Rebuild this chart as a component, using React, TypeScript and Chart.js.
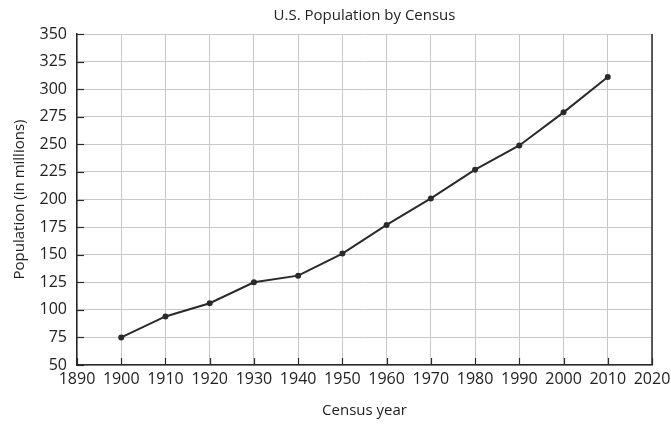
import React, { useEffect, useRef } from "react";
import { Chart, registerables } from "chart.js";

Chart.register(...registerables);

const years = [1900, 1910, 1920, 1930, 1940, 1950, 1960, 1970, 1980, 1990, 2000, 2010];
const population = [75, 94, 106, 125, 131, 151, 177, 201, 227, 249, 279, 311];
const chartTitle = "U.S. Population by Census";
const xTitle = "Census year";
const yTitle = "Population (in millions)";

const FONT = "'Open Sans', 'Noto Sans', sans-serif";

const frame = {
  id: "frame",
  afterDraw(chart: any) {
    const { ctx, chartArea } = chart;
    const { left, right, top, bottom } = chartArea;
    ctx.save();
    ctx.strokeStyle = "#2a2a2a";
    ctx.lineWidth = 1.5;
    ctx.beginPath();
    ctx.moveTo(right, top);
    ctx.lineTo(right, bottom);
    ctx.stroke();
    ctx.lineWidth = 1.2;
    const ys = chart.scales.y;
    ys.ticks.forEach((t: any) => {
      const py = Math.round(ys.getPixelForValue(t.value)) + 0.5;
      ctx.beginPath();
      ctx.moveTo(left, py);
      ctx.lineTo(left + 7, py);
      ctx.stroke();
    });
    const xs = chart.scales.x;
    xs.ticks.forEach((t: any) => {
      const px = Math.round(xs.getPixelForValue(t.value)) + 0.5;
      ctx.beginPath();
      ctx.moveTo(px, bottom);
      ctx.lineTo(px, bottom - 7);
      ctx.stroke();
    });
    // title centred over the plot area
    ctx.fillStyle = "#222";
    ctx.font = `15px ${FONT}`;
    ctx.textAlign = "center";
    ctx.textBaseline = "middle";
    ctx.fillText(chartTitle, (left + right) / 2, 16);
    ctx.restore();
  },
};

export default function App() {
  const ref = useRef<HTMLCanvasElement>(null);
  useEffect(() => {
    document.body.style.margin = "0";
    const chart = new Chart(ref.current!, {
      type: "line",
      data: {
        datasets: [
          {
            data: years.map((y, i) => ({ x: y, y: population[i] })),
            borderColor: "#2a2a2a",
            backgroundColor: "#2a2a2a",
            borderWidth: 2,
            pointRadius: 3,
            pointBackgroundColor: "#2a2a2a",
            pointBorderWidth: 0,
            tension: 0,
          },
        ],
      },
      options: {
        animation: false,
        responsive: false,
        layout: { padding: { left: 0, right: 10, top: 34, bottom: 0 } },
        plugins: {
          legend: { display: false },
          tooltip: { enabled: false },
          title: { display: false },
        },
        scales: {
          x: {
            type: "linear",
            min: 1890,
            max: 2020,
            afterFit: (s: any) => {
              s.height = 59;
              s.paddingRight = 19;
            },
            ticks: {
              stepSize: 10,
              color: "#222",
              padding: 5,
              font: { family: FONT, size: 16 },
              callback: (v: any) => String(v),
              maxRotation: 0,
            },
            grid: { color: "#c8c8c8", drawTicks: false, lineWidth: 1 },
            border: { color: "#2a2a2a", width: 1.5 },
            title: {
              display: true,
              text: xTitle,
              color: "#222",
              font: { family: FONT, size: 15 },
              padding: { top: 0, bottom: 4 },
            },
          },
          y: {
            min: 50,
            max: 350,
            afterFit: (s: any) => {
              s.width = 77;
            },
            ticks: {
              stepSize: 25,
              color: "#222",
              padding: 10,
              font: { family: FONT, size: 16 },
            },
            grid: { color: "#c8c8c8", drawTicks: false, lineWidth: 1 },
            border: { color: "#2a2a2a", width: 1.5 },
            title: {
              display: true,
              text: yTitle,
              color: "#222",
              font: { family: FONT, size: 15 },
              padding: { top: 11, bottom: 0 },
            },
          },
        },
      },
      plugins: [frame],
    });
    return () => chart.destroy();
  }, []);
  return (
    <div style={{ position: "fixed", left: 0, top: 0, width: 671, height: 424, background: "#fff" }}>
      <canvas ref={ref} width={671} height={424} />
    </div>
  );
}
